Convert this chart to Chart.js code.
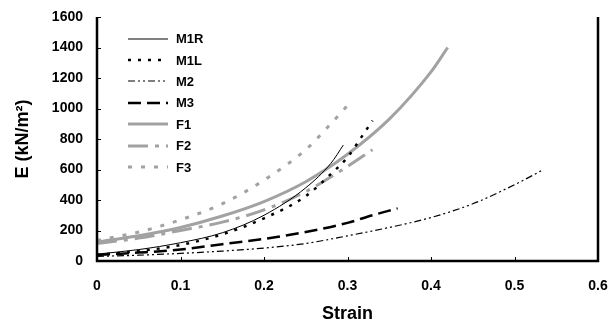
<!DOCTYPE html>
<html>
<head>
<meta charset="utf-8">
<script src="https://cdn.jsdelivr.net/npm/chart.js@4.4.1/dist/chart.umd.min.js"></script>
<style>
  html, body { margin: 0; padding: 0; background: #fff; }
  #wrap { position: relative; width: 612px; height: 325px; }
  #legend { position: absolute; left: 128px; top: 28px; font-family: "Liberation Sans", Arial, sans-serif; font-weight: bold; font-size: 13px; color: #000; }
  .row { height: 21.4px; display: flex; align-items: center; }
  .row svg { width: 40px; height: 8px; margin-right: 8px; }
</style>
</head>
<body>
<div id="wrap">
  <canvas id="c" width="612" height="325"></canvas>
  <div id="legend"></div>
</div>
<script>
// ---- data ----
const xTicks = [0, 0.1, 0.2, 0.3, 0.4, 0.5, 0.6];
const yTicks = [0, 200, 400, 600, 800, 1000, 1200, 1400, 1600];

const m1rStrain = [0, 0.05, 0.1, 0.15, 0.2, 0.25, 0.28, 0.295];
const m1rE      = [45, 75, 120, 185, 300, 480, 640, 760];

const m1lStrain = [0, 0.05, 0.1, 0.15, 0.2, 0.25, 0.28, 0.3, 0.32, 0.33];
const m1lE      = [40, 65, 105, 175, 280, 425, 570, 680, 840, 920];

const m2Strain  = [0, 0.05, 0.1, 0.15, 0.2, 0.25, 0.3, 0.35, 0.4, 0.45, 0.5, 0.535];
const m2E       = [30, 38, 50, 65, 85, 115, 165, 220, 285, 375, 500, 600];

const m3Strain  = [0, 0.05, 0.1, 0.15, 0.2, 0.25, 0.3, 0.33, 0.36];
const m3E       = [40, 55, 75, 110, 145, 190, 250, 300, 345];

const f1Strain  = [0, 0.05, 0.1, 0.15, 0.2, 0.25, 0.3, 0.35, 0.4, 0.42];
const f1E       = [125, 166, 220, 295, 390, 520, 700, 930, 1240, 1400];

const f2Strain  = [0, 0.05, 0.1, 0.15, 0.2, 0.25, 0.3, 0.33];
const f2E       = [115, 150, 200, 255, 335, 455, 620, 730];

const f3Strain  = [0, 0.05, 0.1, 0.15, 0.2, 0.25, 0.275, 0.3];
const f3E       = [135, 190, 270, 375, 530, 730, 870, 1020];

const GRAY = '#a2a2a2';
const series = [
  { label: 'M1R', xs: m1rStrain, ys: m1rE, color: '#000', width: 1, dash: [] },
  { label: 'M1L', xs: m1lStrain, ys: m1lE, color: '#000', width: 2.5, dash: [3, 7] },
  { label: 'M2',  xs: m2Strain,  ys: m2E,  color: '#000', width: 1.2, dash: [7, 3, 2, 3, 2, 3] },
  { label: 'M3',  xs: m3Strain,  ys: m3E,  color: '#000', width: 2.5, dash: [13, 6] },
  { label: 'F1',  xs: f1Strain,  ys: f1E,  color: GRAY, width: 3, dash: [] },
  { label: 'F2',  xs: f2Strain,  ys: f2E,  color: GRAY, width: 3, dash: [20, 7, 4, 7] },
  { label: 'F3',  xs: f3Strain,  ys: f3E,  color: GRAY, width: 3, dash: [4, 9] }
];

const datasets = series.map(s => ({
  label: s.label,
  data: s.xs.map((x, i) => ({ x: x, y: s.ys[i] })),
  borderColor: s.color,
  borderWidth: s.width,
  borderDash: s.dash,
  pointRadius: 0,
  fill: false,
  showLine: true,
  cubicInterpolationMode: 'monotone'
}));

// legend (HTML, real text)
const leg = document.getElementById('legend');
series.forEach(s => {
  const row = document.createElement('div');
  row.className = 'row';
  row.innerHTML = '<svg viewBox="0 0 40 8"><line x1="0" y1="4" x2="40" y2="4" stroke="' + s.color +
    '" stroke-width="' + s.width + '" stroke-dasharray="' + (s.dash.length ? s.dash.join(' ') : 'none') + '"/></svg>' +
    '<span>' + s.label + '</span>';
  leg.appendChild(row);
});

const frame = {
  id: 'frame',
  afterDraw(chart) {
    const { ctx, chartArea: a, scales } = chart;
    ctx.save();
    ctx.strokeStyle = '#000';
    ctx.lineWidth = 1;
    xTicks.forEach(v => {
      const px = Math.round(scales.x.getPixelForValue(v)) + 0.5;
      ctx.beginPath(); ctx.moveTo(px, a.bottom); ctx.lineTo(px, a.bottom - 4); ctx.stroke();
    });
    yTicks.forEach(v => {
      const py = Math.round(scales.y.getPixelForValue(v)) + 0.5;
      ctx.beginPath(); ctx.moveTo(a.left, py); ctx.lineTo(a.left + 4, py); ctx.stroke();
    });
    ctx.lineWidth = 2.5;
    ctx.beginPath();
    ctx.moveTo(a.left, a.top); ctx.lineTo(a.left, a.bottom);
    ctx.lineTo(a.right, a.bottom); ctx.lineTo(a.right, a.top);
    ctx.stroke();
    ctx.restore();
  }
};

const hiddenGrid = (len) => ({ display: true, drawOnChartArea: false, drawTicks: true, tickLength: len, color: 'rgba(0,0,0,0)', tickColor: 'rgba(0,0,0,0)' });

new Chart(document.getElementById('c'), {
  type: 'scatter',
  data: { datasets: datasets },
  options: {
    responsive: false,
    animation: false,
    layout: { padding: { top: 17, right: 14, left: 0, bottom: 0 } },
    plugins: { legend: { display: false }, tooltip: { enabled: false } },
    scales: {
      x: {
        type: 'linear', min: 0, max: 0.6,
        afterBuildTicks: sc => { sc.ticks = xTicks.map(v => ({ value: v })); },
        afterFit: sc => { sc.height = 64; },
        grid: hiddenGrid(14),
        border: { display: false },
        ticks: {
          padding: 3, color: '#000',
          font: { family: 'Liberation Sans', weight: 'bold', size: 14 },
          callback: v => String(v)
        },
        title: { display: true, text: 'Strain', color: '#000', padding: { top: 4, bottom: 0 },
          font: { family: 'Liberation Sans', weight: 'bold', size: 18 } }
      },
      y: {
        type: 'linear', min: 0, max: 1600,
        afterBuildTicks: sc => { sc.ticks = yTicks.map(v => ({ value: v })); },
        afterFit: sc => { sc.width = 97; },
        grid: hiddenGrid(11),
        border: { display: false },
        ticks: {
          padding: 3, color: '#000',
          font: { family: 'Liberation Sans', weight: 'bold', size: 14 },
          callback: v => String(v)
        },
        title: { display: true, text: 'E (kN/m²)', color: '#000', padding: { top: 12, bottom: 0 },
          font: { family: 'Liberation Sans', weight: 'bold', size: 18 } }
      }
    }
  },
  plugins: [frame]
});
</script>
</body>
</html>
